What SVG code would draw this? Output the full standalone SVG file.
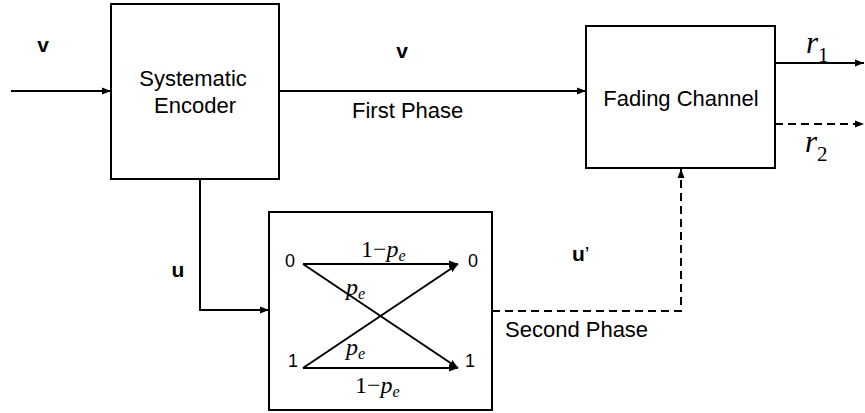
<svg xmlns="http://www.w3.org/2000/svg" width="865" height="413" viewBox="0 0 865 413">
<style>
.box{fill:#fff;stroke:#000;stroke-width:2}
.ln{fill:none;stroke:#000;stroke-width:2}
.dash{stroke-dasharray:8 5}
.t{font-family:"Liberation Sans",Arial,sans-serif;font-size:22px;fill:#000}
.b{font-family:"Liberation Sans",Arial,sans-serif;font-size:21px;font-weight:bold;fill:#000}
.d{font-family:"Liberation Sans",Arial,sans-serif;font-size:18px;fill:#000}
.m{font-family:"Liberation Serif","Times New Roman",serif;font-size:24px;fill:#000}
.r{font-family:"Liberation Serif","Times New Roman",serif;font-size:31px;font-style:italic;fill:#000}
.i{font-style:italic}
.sub{font-size:16px;font-style:italic}
.rsub{font-size:21px;font-style:normal}
</style>
<defs>
<marker id="ah" markerUnits="userSpaceOnUse" markerWidth="10" markerHeight="8" refX="9" refY="4" orient="auto">
<path d="M0,0.5 L9,4 L0,7.5 Z" fill="#000"/>
</marker>
</defs>
<g id="connectors">
<line class="ln" x1="11" y1="91" x2="111" y2="91" marker-end="url(#ah)"/>
<line class="ln" x1="279" y1="91" x2="586" y2="91" marker-end="url(#ah)"/>
<polyline class="ln" points="200,179 200,310 269,310" marker-end="url(#ah)"/>
<line class="ln" x1="775" y1="63" x2="864" y2="63" marker-end="url(#ah)"/>
<line class="ln dash" x1="775" y1="124" x2="864" y2="124" marker-end="url(#ah)"/>
<polyline class="ln dash" points="492,311 681,311 681,169" marker-end="url(#ah)"/>
<text class="b" x="43" y="52" text-anchor="middle">v</text>
<text class="b" x="402" y="58" text-anchor="middle">v</text>
<text class="t" x="352" y="118">First Phase</text>
<text class="b" x="178" y="277" text-anchor="middle">u</text>
<text class="b" x="572" y="261">u<tspan font-weight="normal">’</tspan></text>
<text class="t" x="505" y="337">Second Phase</text>
<text class="r" x="806" y="53">r<tspan class="rsub" dy="9">1</tspan></text>
<text class="r" x="805" y="152">r<tspan class="rsub" dy="9">2</tspan></text>
</g>
<g id="encoder">
<rect class="box" x="111" y="4" width="168" height="175"/>
<text class="t" x="193" y="86" text-anchor="middle">Systematic</text>
<text class="t" x="195" y="113" text-anchor="middle">Encoder</text>
</g>
<g id="channel">
<rect class="box" x="586" y="26" width="189" height="142"/>
<text class="t" x="681" y="106" text-anchor="middle">Fading Channel</text>
</g>
<g id="bsc">
<rect class="box" x="269" y="212" width="223" height="198"/>
<line class="ln" x1="303" y1="264" x2="458" y2="264" marker-end="url(#ah)"/>
<line class="ln" x1="303" y1="368" x2="458" y2="368" marker-end="url(#ah)"/>
<line class="ln" x1="303" y1="264" x2="458" y2="368" marker-end="url(#ah)"/>
<line class="ln" x1="303" y1="368" x2="458" y2="264" marker-end="url(#ah)"/>
<text class="d" x="285" y="267">0</text>
<text class="d" x="468" y="267">0</text>
<text class="d" x="288" y="367">1</text>
<text class="d" x="465" y="367">1</text>
<text class="m" x="361" y="257">1−<tspan class="i">p</tspan><tspan class="sub" dy="4">e</tspan></text>
<text class="m" x="355" y="393">1−<tspan class="i">p</tspan><tspan class="sub" dy="4">e</tspan></text>
<text class="m i" x="346" y="295">p<tspan class="sub" dy="4">e</tspan></text>
<text class="m i" x="346" y="355">p<tspan class="sub" dy="4">e</tspan></text>
</g>
</svg>
